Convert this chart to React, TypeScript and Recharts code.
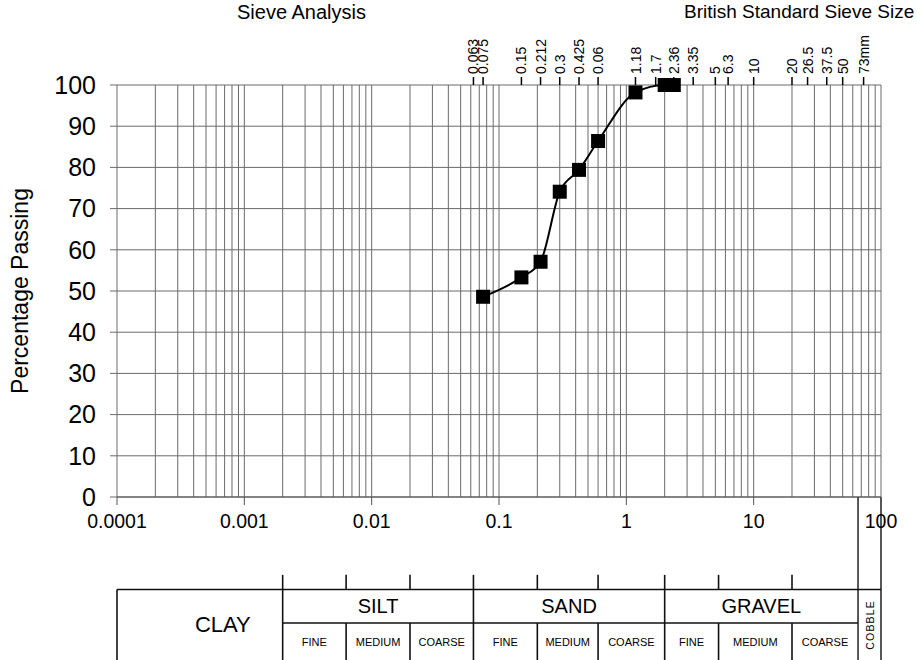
import React from 'react';
import { LineChart, Line, XAxis, YAxis, CartesianGrid, ReferenceLine, ReferenceArea } from 'recharts';

// ---------- data ----------
const sieveSizes = [0.075, 0.15, 0.212, 0.3, 0.425, 0.6, 1.18, 2, 2.36];
const percentPassing = [48.6, 53.3, 57.1, 74.1, 79.4, 86.4, 98.2, 100, 100];

const decadeTicks = [0.0001, 0.001, 0.01, 0.1, 1, 10, 100];
const decadeLabels = ['0.0001', '0.001', '0.01', '0.1', '1', '10', '100'];
const percentTicks = [0, 10, 20, 30, 40, 50, 60, 70, 80, 90, 100];

const bsSieveSizes = [0.063, 0.075, 0.15, 0.212, 0.3, 0.425, 0.6, 1.18, 1.7, 2.36, 3.35, 5, 6.3, 10, 20, 26.5, 37.5, 50, 73];
const bsSieveLabels = ['0.063', '0.075', '0.15', '0.212', '0.3', '0.425', '0.06', '1.18', '1.7', '2.36', '3.35', '5', '6.3', '10', '20', '26.5', '37.5', '50', '73mm'];

const gridMantissas = [1, 2, 3, 4, 5, 6, 7, 8, 9];

const soilNames = ['CLAY', 'SILT', 'SAND', 'GRAVEL', 'COBBLE'];
const soilBounds = [0.0001, 0.002, 0.063, 2, 66, 100];
const subNames = ['FINE', 'MEDIUM', 'COARSE'];
const subBounds = [
  [0.002, 0.0063, 0.02, 0.063],
  [0.063, 0.2, 0.6, 2],
  [2, 5.3, 20, 66],
];

const chartTitle = 'Sieve Analysis';
const topAxisTitle = 'British Standard Sieve Size';
const yAxisTitle = 'Percentage Passing';

// ---------- layout / style ----------
const W = 917;
const H = 660;
const FONT = '"Liberation Sans", Arial, Helvetica, sans-serif';
const GRID = '#6a6a6a';
const INK = '#111';
// table rows in y-axis units (below 0)
const T_TICK_TOP = -18.9;
const T_TOP = -22.45;
const T_MID = -30.6;
const T_BOT = -42;

const data = sieveSizes.map((s, i) => ({ size: s, pass: percentPassing[i] }));

const minorGrid: number[] = [];
decadeTicks.slice(0, -1).forEach((d) => gridMantissas.forEach((m) => minorGrid.push(m * d)));
minorGrid.push(100);

const SquareDot = (props: any) => {
  const { cx, cy, index } = props;
  if (cx == null || cy == null) return null;
  return <rect key={`sq-${index}`} x={cx - 7} y={cy - 7} width={14} height={14} fill="#000" />;
};

const TopTick = (props: any) => {
  const { x, y, payload } = props;
  const i = bsSieveSizes.indexOf(payload.value);
  const label = i >= 0 ? bsSieveLabels[i] : String(payload.value);
  return (
    <text
      x={x}
      y={y}
      dy="0.36em"
      transform={`rotate(-90 ${x} ${y})`}
      textAnchor="start"
      fontSize={14}
      fontFamily={FONT}
      fill="#000"
    >
      {label}
    </text>
  );
};

const cellLabel = (text: string, size: number, opts: { dx?: number; rotate?: boolean; spacing?: number } = {}) =>
  (props: any) => {
    const vb = props.viewBox || {};
    const cx = vb.x + vb.width / 2 + (opts.dx || 0);
    const cy = vb.y + vb.height / 2;
    return (
      <text
        x={cx}
        y={cy}
        textAnchor="middle"
        dominantBaseline="central"
        fontSize={size}
        fontFamily={FONT}
        fill="#000"
        letterSpacing={opts.spacing || 0}
        transform={opts.rotate ? `rotate(-90 ${cx} ${cy})` : undefined}
      >
        {text}
      </text>
    );
  };

const YLabel = (props: any) => {
  const vb = props.viewBox || {};
  const x = vb.x + 20;
  const y = vb.y + vb.height / 2;
  return (
    <text x={x} y={y} transform={`rotate(-90 ${x} ${y})`} textAnchor="middle" dominantBaseline="central" fontSize={23} fontFamily={FONT} fill="#000">
      {yAxisTitle}
    </text>
  );
};

const seg = (x1: number, y1: number, x2: number, y2: number, key: string, w = 1.6) => (
  <ReferenceLine
    key={key}
    segment={[{ x: x1, y: y1 }, { x: x2, y: y2 }]}
    stroke={INK}
    strokeWidth={w}
    ifOverflow="visible"
  />
);

export default function App() {
  const tableLines: React.ReactNode[] = [];
  tableLines.push(seg(soilBounds[0], T_TOP, soilBounds[5], T_TOP, 'ttop'));
  tableLines.push(seg(soilBounds[1], T_MID, soilBounds[4], T_MID, 'tmid'));
  tableLines.push(seg(soilBounds[0], T_TOP, soilBounds[0], T_BOT, 'tleft'));
  [soilBounds[1], soilBounds[2], soilBounds[3]].forEach((b, i) =>
    tableLines.push(seg(b, T_TICK_TOP, b, T_BOT, `maj-${i}`))
  );
  [soilBounds[4], soilBounds[5]].forEach((b, i) => tableLines.push(seg(b, 0, b, T_BOT, `cob-${i}`, 1.4)));
  subBounds.forEach((bs, gi) =>
    [bs[1], bs[2]].forEach((b, j) => {
      tableLines.push(seg(b, T_TICK_TOP, b, T_TOP, `minA-${gi}-${j}`));
      tableLines.push(seg(b, T_MID, b, T_BOT, `minB-${gi}-${j}`));
    })
  );

  const tableLabels: React.ReactNode[] = [];
  tableLabels.push(
    <ReferenceArea key="clay" x1={soilBounds[0]} x2={soilBounds[1]} y1={T_TOP} y2={-39.6} fill="transparent" fillOpacity={0} stroke="none" ifOverflow="visible" label={cellLabel(soilNames[0], 22, { dx: 23 })} />
  );
  [1, 2, 3].forEach((k) =>
    tableLabels.push(
      <ReferenceArea key={`h-${k}`} x1={soilBounds[k]} x2={soilBounds[k + 1]} y1={T_TOP} y2={T_MID} fill="transparent" fillOpacity={0} stroke="none" ifOverflow="visible" label={cellLabel(soilNames[k], 20)} />
    )
  );
  subBounds.forEach((bs, gi) =>
    subNames.forEach((n, j) =>
      tableLabels.push(
        <ReferenceArea key={`s-${gi}-${j}`} x1={bs[j]} x2={bs[j + 1]} y1={T_MID} y2={-39.6} fill="transparent" fillOpacity={0} stroke="none" ifOverflow="visible" label={cellLabel(n, 11)} />
      )
    )
  );
  tableLabels.push(
    <ReferenceArea key="cobble" x1={soilBounds[4]} x2={soilBounds[5]} y1={T_TOP} y2={-39.6} fill="transparent" fillOpacity={0} stroke="none" ifOverflow="visible" label={cellLabel(soilNames[4], 10.5, { rotate: true, spacing: 1.2 })} />
  );

  return (
    <div style={{ position: 'absolute', left: 0, top: 0, width: W, height: H, background: '#fff', overflow: 'hidden' }}>
      <LineChart width={W} height={H} data={data} margin={{ top: 35, right: 36, bottom: 123, left: 0 }}>
        <CartesianGrid vertical={false} stroke={GRID} strokeWidth={1} />
        {minorGrid.map((v, i) => (
          <ReferenceLine key={`vg-${i}`} x={v} stroke={GRID} strokeWidth={1} ifOverflow="visible" />
        ))}
        <XAxis
          dataKey="size"
          type="number"
          scale="log"
          domain={[0.0001, 100]}
          allowDataOverflow
          ticks={decadeTicks}
          interval={0}
          tickFormatter={(v: number) => {
            const i = decadeTicks.indexOf(v);
            return i >= 0 ? decadeLabels[i] : String(v);
          }}
          height={40}
          tickSize={8}
          tickMargin={9}
          axisLine={{ stroke: '#555' }}
          tickLine={{ stroke: '#555' }}
          tick={{ fill: '#000', fontSize: 19.5, fontFamily: FONT }}
        />
        <XAxis
          xAxisId="top"
          dataKey="size"
          orientation="top"
          type="number"
          scale="log"
          domain={[0.0001, 100]}
          allowDataOverflow
          ticks={bsSieveSizes}
          interval={0}
          height={50}
          tickSize={8}
          tickMargin={3}
          axisLine={false}
          tickLine={{ stroke: '#000', strokeWidth: 1.5 }}
          tick={<TopTick />}
        />
        <YAxis
          type="number"
          domain={[0, 100]}
          ticks={percentTicks}
          interval={0}
          width={117}
          tickSize={7}
          tickMargin={14}
          axisLine={false}
          tickLine={{ stroke: GRID }}
          tick={{ fill: '#000', fontSize: 25, fontFamily: FONT }}
          label={<YLabel />}
        />
        {tableLines}
        {tableLabels}
        <Line
          xAxisId="top"
          type="monotone"
          dataKey="pass"
          stroke="none"
          strokeOpacity={0}
          dot={false}
          activeDot={false}
          legendType="none"
          isAnimationActive={false}
        />
        <Line
          type="monotone"
          dataKey="pass"
          stroke="#000"
          strokeWidth={2}
          dot={SquareDot}
          activeDot={false}
          isAnimationActive={false}
        />
      </LineChart>
      <div style={{ position: 'absolute', left: 237, top: 2, fontFamily: FONT, fontSize: 20, lineHeight: '20px', color: '#000', whiteSpace: 'nowrap' }}>
        {chartTitle}
      </div>
      <div style={{ position: 'absolute', left: 684, top: 2, fontFamily: FONT, fontSize: 19, lineHeight: '20px', color: '#000', whiteSpace: 'nowrap' }}>
        {topAxisTitle}
      </div>
    </div>
  );
}
